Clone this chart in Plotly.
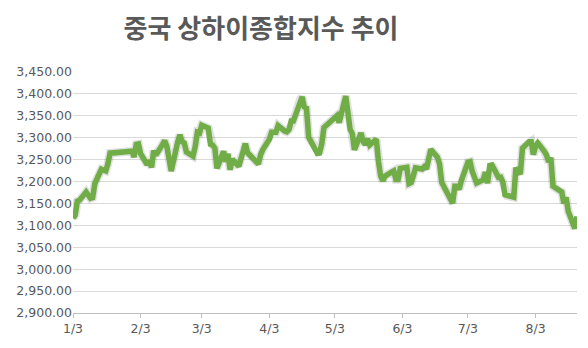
import plotly.graph_objects as go

dates = [
    "2023-01-03","2023-01-04","2023-01-05","2023-01-06","2023-01-09","2023-01-10","2023-01-11","2023-01-12","2023-01-13",
    "2023-01-16","2023-01-17","2023-01-18","2023-01-19","2023-01-20","2023-01-30","2023-01-31",
    "2023-02-01","2023-02-02","2023-02-03","2023-02-06","2023-02-07","2023-02-08","2023-02-09","2023-02-10",
    "2023-02-13","2023-02-14","2023-02-15","2023-02-16","2023-02-17","2023-02-20","2023-02-21","2023-02-22",
    "2023-02-23","2023-02-24","2023-02-27","2023-02-28",
    "2023-03-01","2023-03-02","2023-03-03","2023-03-06","2023-03-07","2023-03-08","2023-03-09","2023-03-10",
    "2023-03-13","2023-03-14","2023-03-15","2023-03-16","2023-03-17","2023-03-20","2023-03-21","2023-03-22",
    "2023-03-23","2023-03-24","2023-03-27","2023-03-28","2023-03-29","2023-03-30","2023-03-31",
    "2023-04-03","2023-04-04","2023-04-06","2023-04-07","2023-04-10","2023-04-11","2023-04-12","2023-04-13",
    "2023-04-14","2023-04-17","2023-04-18","2023-04-19","2023-04-20","2023-04-21","2023-04-24","2023-04-25",
    "2023-04-26","2023-04-27","2023-04-28",
    "2023-05-04","2023-05-05","2023-05-08","2023-05-09","2023-05-10","2023-05-11","2023-05-12","2023-05-15",
    "2023-05-16","2023-05-17","2023-05-18","2023-05-19","2023-05-22","2023-05-23","2023-05-24","2023-05-25",
    "2023-05-26","2023-05-29","2023-05-30","2023-05-31",
    "2023-06-01","2023-06-02","2023-06-05","2023-06-06","2023-06-07","2023-06-08","2023-06-09","2023-06-12",
    "2023-06-13","2023-06-14","2023-06-15","2023-06-16","2023-06-19","2023-06-20","2023-06-21","2023-06-26",
    "2023-06-27","2023-06-28","2023-06-29","2023-06-30",
    "2023-07-03","2023-07-04","2023-07-05","2023-07-06","2023-07-07","2023-07-10","2023-07-11","2023-07-12",
    "2023-07-13","2023-07-14","2023-07-17","2023-07-18","2023-07-19","2023-07-20","2023-07-21","2023-07-24",
    "2023-07-25","2023-07-26","2023-07-27","2023-07-28","2023-07-31",
    "2023-08-01","2023-08-02","2023-08-03","2023-08-04","2023-08-07","2023-08-08","2023-08-09","2023-08-10",
    "2023-08-11","2023-08-14","2023-08-15","2023-08-16","2023-08-17","2023-08-18","2023-08-21","2023-08-22",
]

values = [
    3116.5,3123.5,3155.2,3157.6,3176.1,3169.5,3161.8,3163.4,3195.3,
    3228.0,3224.4,3224.2,3240.3,3264.8,3269.3,3255.7,
    3284.9,3285.7,3263.4,3238.7,3248.1,3232.1,3270.4,3260.7,
    3284.2,3293.3,3280.5,3249.0,3224.0,3290.3,3306.5,3291.2,
    3287.5,3267.2,3258.0,3279.6,
    3312.4,3310.7,3328.4,3322.0,3285.1,3283.3,3276.1,3230.1,
    3268.7,3245.3,3263.3,3226.9,3250.6,3234.9,3255.7,3265.6,
    3286.7,3265.7,3251.4,3245.4,3240.1,3261.3,3272.9,
    3296.4,3312.6,3312.4,3327.7,3315.4,3313.6,3318.4,3338.2,
    3338.2,3385.6,3393.3,3370.1,3367.4,3301.3,3275.4,3264.1,
    3264.9,3285.9,3323.3,
    3350.5,3334.5,3395.0,3357.7,3319.2,3309.6,3272.4,3310.7,
    3291.0,3284.2,3297.3,3283.5,3296.5,3246.2,3212.5,3201.3,
    3212.5,3221.5,3224.2,3204.6,
    3204.6,3230.1,3232.4,3195.3,3197.9,3213.6,3231.4,3228.8,
    3233.7,3229.0,3252.9,3273.3,3255.8,3240.4,3197.9,3150.6,
    3189.4,3189.4,3182.4,3202.1,
    3244.0,3245.4,3222.9,3205.2,3196.6,3203.7,3221.4,3196.1,
    3236.5,3237.7,3209.6,3210.0,3198.8,3169.5,3167.8,3164.2,
    3231.5,3223.1,3216.7,3275.9,3291.0,
    3291.0,3261.7,3280.5,3288.1,3268.8,3260.6,3244.5,3254.6,
    3189.3,3178.4,3176.2,3150.1,3163.7,3131.9,3093.0,3120.3,
]

tick_dates = ["2023-01-03","2023-02-03","2023-03-03","2023-04-03","2023-05-03","2023-06-03","2023-07-03","2023-08-03"]
tick_labels = ["1/3","2/3","3/3","4/3","5/3","6/3","7/3","8/3"]
y_ticks = list(range(2900, 3451, 50))

fig = go.Figure()
fig.add_trace(go.Scatter(
    x=dates, y=values, mode="lines",
    line=dict(color="rgba(0,0,0,0.12)", width=8.5),
    hoverinfo="skip", showlegend=False,
))
fig.add_trace(go.Scatter(
    x=dates, y=values, mode="lines",
    line=dict(color="#70AD47", width=5.5),
    showlegend=False,
))

fig.update_layout(
    width=588, height=348,
    margin=dict(l=73, r=11, t=72, b=35),
    paper_bgcolor="white", plot_bgcolor="white",
    title=dict(
        text="<b>중국 상하이종합지수 추이</b>",
        xref="container", x=0.444, xanchor="center", y=0.918, yanchor="middle",
        font=dict(family="Noto Sans CJK KR", size=26, color="#595959"),
    ),
    font=dict(family="DejaVu Sans", size=12.5, color="#595959"),
)
fig.update_xaxes(
    type="date", range=["2023-01-03", "2023-08-22"],
    tickvals=tick_dates, ticktext=tick_labels,
    showgrid=False, showline=True, linecolor="#BFBFBF", linewidth=1,
    ticks="outside", ticklen=4, tickcolor="#BFBFBF",
    tickfont=dict(family="DejaVu Sans", size=12.5, color="#595959"),
    zeroline=False,
)
fig.update_yaxes(
    range=[2900, 3450], tickvals=y_ticks, tickformat=",.2f",
    showgrid=True, gridcolor="#D9D9D9", gridwidth=1,
    zeroline=False, showline=False, ticks="",
    tickfont=dict(family="DejaVu Sans", size=12.5, color="#595959"),
)

fig.write_html("out.html")
